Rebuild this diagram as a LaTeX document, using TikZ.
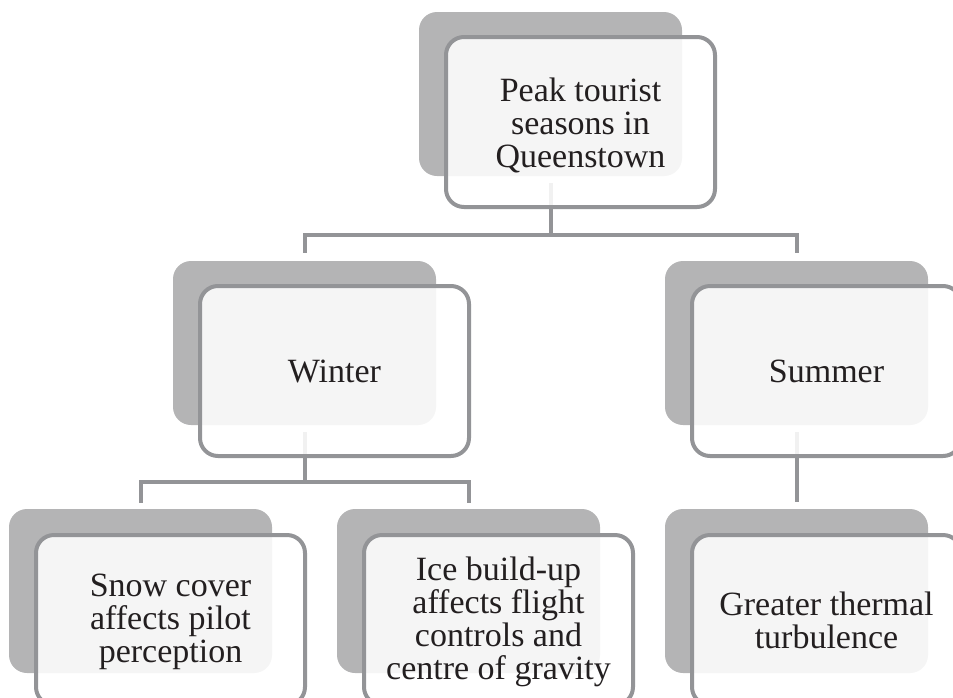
\documentclass[tikz,border=0pt]{standalone}
\usepackage{fontspec}
\setmainfont{Liberation Serif}
\usetikzlibrary{calc}
\definecolor{shadegray}{HTML}{B4B4B5}
\definecolor{edgegray}{HTML}{939497}
\definecolor{inkdark}{HTML}{231F20}
\tikzset{
  backbox/.style={fill=shadegray, draw=none, rounded corners=18pt,
    minimum width=263pt, minimum height=164pt, inner sep=0pt},
  frontbox/.style={draw=edgegray, line width=4pt, fill=white, fill opacity=0.87,
    rounded corners=18pt, minimum width=269pt, minimum height=170pt, inner sep=0pt},
  label/.style={text=inkdark, align=center, inner sep=0pt,
    font=\fontsize{34pt}{33pt}\selectfont},
  conn/.style={draw=edgegray, line width=4pt}
}
\begin{document}
\begin{tikzpicture}[x=1pt, y=-1pt]
\useasboundingbox (0,0) rectangle (953,697);
\clip (0,0) rectangle (953,697);

% shaded back plates
\node[backbox] (topb)    at (550.5,94)  {};
\node[backbox] (winterb) at (304.5,343) {};
\node[backbox] (summerb) at (796.5,343) {};
\node[backbox] (snowb)   at (140.5,591) {};
\node[backbox] (iceb)    at (468.5,591) {};
\node[backbox] (heatb)   at (796.5,591) {};

% connectors (run underneath the translucent front cards)
\draw[conn] ($(topb.south)+(0,7)$) -- ($(topb.south)+(0,59)$);
\draw[conn] ($(winterb.north)+(0,-8)$) |- ($(summerb.north)+(0,-26)$) -- ($(summerb.north)+(0,-8)$);
\draw[conn] ($(winterb.south)+(0,7)$) -- ($(winterb.south)+(0,57)$);
\draw[conn] ($(snowb.north)+(0,-6)$) |- ($(iceb.north)+(0,-27)$) -- ($(iceb.north)+(0,-6)$);
\draw[conn] ($(summerb.south)+(0,7)$) -- ($(heatb.north)+(0,-7)$);

% front cards
\node[frontbox] (top)    at (580.5,122) {};
\node[frontbox] (winter) at (334.5,371) {};
\node[frontbox] (summer) at (826.5,371) {};
\node[frontbox] (snow)   at (170.5,620) {};
\node[frontbox] (ice)    at (498.5,620) {};
\node[frontbox] (heat)   at (826.5,620) {};

% card texts
\node[label] (toptxt)    at ($(top)+(0,3)$) {Peak tourist\\seasons in\\Queenstown};
\node[label] (wintertxt) at (winter) {Winter};
\node[label] (summertxt) at (summer) {Summer};
\node[label] (snowtxt)   at ($(snow)+(0,2)$) {Snow cover\\affects pilot\\perception};
\node[label] (icetxt)    at ($(ice)+(0,2)$)  {Ice build-up\\affects flight\\controls and\\centre of gravity};
\node[label] (heattxt)   at (heat)   {Greater thermal\\turbulence};
\end{tikzpicture}
\end{document}
